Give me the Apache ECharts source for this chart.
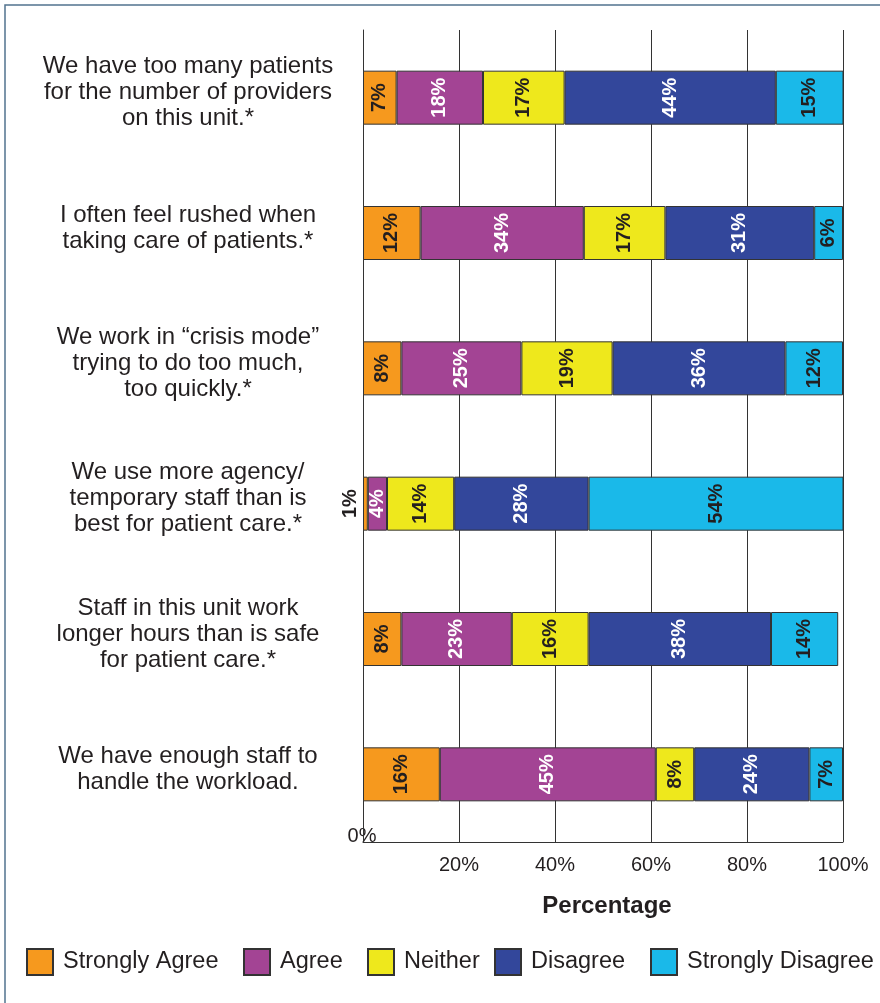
<!DOCTYPE html>
<html>
<head>
<meta charset="utf-8">
<script src="https://cdn.jsdelivr.net/npm/echarts@6/dist/echarts.min.js"></script>
<style>
  html, body { margin: 0; padding: 0; background: #ffffff; }
  #chart { width: 880px; height: 1003px; }
</style>
</head>
<body>
<div id="chart"></div>
<script>
const categories = [
  "We have too many patients\nfor the number of providers\non this unit.*",
  "I often feel rushed when\ntaking care of patients.*",
  "We work in \u201ccrisis mode\u201d\ntrying to do too much,\ntoo quickly.*",
  "We use more agency/\ntemporary staff than is\nbest for patient care.*",
  "Staff in this unit work\nlonger hours than is safe\nfor patient care.*",
  "We have enough staff to\nhandle the workload."
];
const seriesNames = ["Strongly Agree", "Agree", "Neither", "Disagree", "Strongly Disagree"];
const stronglyAgree    = [7, 12, 8, 1, 8, 16];
const agree            = [18, 34, 25, 4, 23, 45];
const neither          = [17, 17, 19, 14, 16, 8];
const disagree         = [44, 31, 36, 28, 38, 24];
const stronglyDisagree = [15, 6, 12, 54, 14, 7];
const xTickValues = [0, 20, 40, 60, 80, 100];
const xTickLabels = ["0%", "20%", "40%", "60%", "80%", "100%"];
const axisTitle = "Percentage";

const colors = ["#F6991E", "#A34494", "#EEE81C", "#33479B", "#1AB9E9"];
const labelColors = ["#231f20", "#ffffff", "#231f20", "#ffffff", "#231f20"];
const legendLefts = [26, 243, 367, 494, 650];
const FONT = '"Liberation Sans", Arial, Helvetica, sans-serif';

const seriesValues = [stronglyAgree, agree, neither, disagree, stronglyDisagree];

const chart = echarts.init(document.getElementById('chart'), null, { renderer: 'canvas' });

const series = seriesValues.map((vals, i) => ({
  name: seriesNames[i],
  type: 'bar',
  stack: 'total',
  barWidth: 54,
  clip: true,
  itemStyle: { color: colors[i], borderColor: '#333333', borderWidth: 1 },
  label: {
    show: true,
    position: 'inside',
    rotate: 90,
    formatter: '{c}%',
    fontFamily: FONT,
    fontSize: 20,
    fontWeight: 'bold',
    color: labelColors[i]
  },
  emphasis: { disabled: true },
  data: vals.map(v => {
    if (v <= 2) {
      return {
        value: v,
        label: {
          position: [-13, '50%'],
          align: 'center',
          verticalAlign: 'middle',
          color: '#231f20'
        }
      };
    }
    return v;
  })
}));

const legends = seriesNames.map((name, i) => ({
  data: [name],
  left: legendLefts[i],
  top: 948,
  padding: 0,
  itemWidth: 26,
  itemHeight: 26,
  itemGap: 0,
  icon: 'rect',
  selectedMode: false,
  textStyle: { fontFamily: FONT, fontSize: 23.5, color: '#231f20', padding: [0, 0, 0, 5] }
}));

const option = {
  animation: false,
  backgroundColor: '#ffffff',
  textStyle: { fontFamily: FONT },
  grid: { left: 363, right: 37, top: 30, bottom: 161, containLabel: false },
  xAxis: {
    type: 'value',
    min: 0,
    max: 100,
    interval: 20,
    name: axisTitle,
    nameLocation: 'middle',
    nameGap: 52,
    nameTextStyle: { fontFamily: FONT, fontSize: 24, fontWeight: 'bold', color: '#231f20', padding: [0, 0, 0, 8] },
    axisLine: { show: true, lineStyle: { color: '#333333', width: 1 } },
    axisTick: { show: false },
    splitLine: { show: true, lineStyle: { color: '#333333', width: 1 } },
    axisLabel: {
      fontFamily: FONT,
      fontSize: 20,
      color: '#231f20',
      margin: 13,
      formatter: v => (v === 0 ? '' : xTickLabels[xTickValues.indexOf(v)])
    }
  },
  yAxis: {
    type: 'category',
    data: categories,
    inverse: true,
    axisLine: { show: true, lineStyle: { color: '#333333', width: 1 } },
    axisTick: { show: false },
    splitLine: { show: false },
    axisLabel: {
      fontFamily: FONT,
      fontSize: 24,
      lineHeight: 26,
      color: '#231f20',
      align: 'center',
      margin: 175,
      formatter: v => v + '\n{s| }',
      rich: { s: { fontSize: 4, lineHeight: 10, height: 10 } }
    }
  },
  legend: legends,
  graphic: [
    {
      type: 'rect',
      silent: true,
      z: -10,
      shape: { x: 5, y: 5, width: 1000, height: 1100 },
      style: { fill: 'none', stroke: '#52738f', lineWidth: 1.5 }
    },
    {
      type: 'text',
      silent: true,
      x: 362,
      y: 836,
      style: {
        text: xTickLabels[0],
        font: '20px ' + FONT,
        fill: '#231f20',
        align: 'center',
        verticalAlign: 'middle'
      }
    }
  ],
  series: series
};

chart.setOption(option);
</script>
</body>
</html>
